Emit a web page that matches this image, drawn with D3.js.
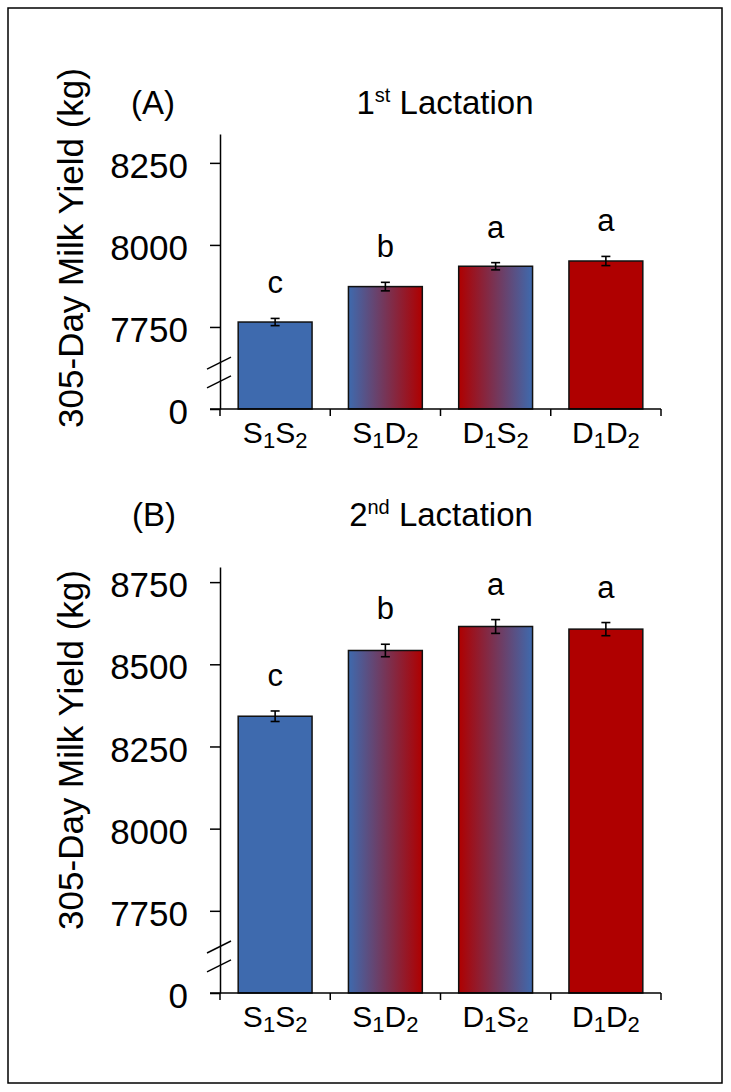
<!DOCTYPE html>
<html>
<head>
<meta charset="utf-8">
<script src="https://cdn.jsdelivr.net/npm/d3@7"></script>
<style>
  html, body { margin: 0; padding: 0; background: #fff; }
  svg { display: block; font-family: "Liberation Sans", Arial, sans-serif; }
</style>
</head>
<body>
<svg id="chart" width="731" height="1092"></svg>
<script>
// ---------------- data ----------------
const categories = ["S1S2", "S1D2", "D1S2", "D1D2"];

const lact1Values  = [7765, 7873, 7935, 7951];
const lact1Errors  = [11, 13, 11, 14];
const lact1Letters = ["c", "b", "a", "a"];
const lact1Ticks   = [7500, 7750, 8000, 8250];   // 7500 drawn as "0" (broken axis)
const lact1Max     = 8338;

const lact2Values  = [8342, 8542, 8615, 8607];
const lact2Errors  = [16, 19, 21, 20];
const lact2Letters = ["c", "b", "a", "a"];
const lact2Ticks   = [7500, 7750, 8000, 8250, 8500, 8750];
const lact2Max     = 8796;

const breakValue = 7500;   // value shown as "0" below the axis break
const yTitle = "305-Day Milk Yield (kg)";

// ---------------- drawing ----------------
const BLUE = "#3e6aae", RED = "#af0000";
const svg = d3.select("#chart");

svg.append("rect").attr("x", 8).attr("y", 8).attr("width", 714).attr("height", 1075)
  .attr("fill", "none").attr("stroke", "#000").attr("stroke-width", 1.5);

const defs = svg.append("defs");
function grad(id, c0, c1) {
  const g = defs.append("linearGradient").attr("id", id)
    .attr("x1", "0%").attr("x2", "100%").attr("y1", "0%").attr("y2", "0%");
  g.append("stop").attr("offset", "0%").attr("stop-color", c0);
  g.append("stop").attr("offset", "100%").attr("stop-color", c1);
}
grad("gBR", BLUE, RED);
grad("gRB", RED, BLUE);
const fills = { S1S2: BLUE, S1D2: "url(#gBR)", D1S2: "url(#gRB)", D1D2: RED };

const x = d3.scaleBand().domain(categories).range([220, 661])
  .paddingInner(0.33).paddingOuter(0.165);

function catLabel(sel, label) {
  const chars = label.split("");
  chars.forEach((ch, i) => {
    const isDigit = /\d/.test(ch);
    const prevDigit = i > 0 && /\d/.test(chars[i - 1]);
    const t = sel.append("tspan").text(ch);
    if (isDigit) t.attr("font-size", 22).attr("dy", 5);
    else if (prevDigit) t.attr("dy", -5);
  });
}

function panel(opts) {
  const { values, errors, letters, ticks, max, y0, yTop, tag, titleNum, titleSup,
          titleBase, titleCenter, tagX, yTitleCenter } = opts;
  const y = d3.scaleLinear().domain([breakValue, max]).range([y0, yTop]);
  const g = svg.append("g");

  // bars
  g.selectAll("rect.bar").data(categories).join("rect").attr("class", "bar")
    .attr("x", d => x(d)).attr("width", x.bandwidth())
    .attr("y", (d, i) => y(values[i]))
    .attr("height", (d, i) => y(breakValue) - y(values[i]))
    .attr("fill", d => fills[d]).attr("stroke", "#111").attr("stroke-width", 1.5);

  // error bars
  const eb = g.selectAll("g.err").data(categories).join("g").attr("class", "err")
    .attr("stroke", "#000").attr("stroke-width", 1.6);
  const cx = d => x(d) + x.bandwidth() / 2;
  eb.append("line").attr("x1", cx).attr("x2", cx)
    .attr("y1", (d, i) => y(values[i] - errors[i])).attr("y2", (d, i) => y(values[i] + errors[i]));
  eb.append("line").attr("x1", d => cx(d) - 4.5).attr("x2", d => cx(d) + 4.5)
    .attr("y1", (d, i) => y(values[i] + errors[i])).attr("y2", (d, i) => y(values[i] + errors[i]));
  eb.append("line").attr("x1", d => cx(d) - 4.5).attr("x2", d => cx(d) + 4.5)
    .attr("y1", (d, i) => y(values[i] - errors[i])).attr("y2", (d, i) => y(values[i] - errors[i]));

  // significance letters
  g.selectAll("text.sig").data(categories).join("text").attr("class", "sig")
    .attr("x", cx).attr("y", (d, i) => y(values[i] + errors[i]) - 25)
    .attr("text-anchor", "middle").attr("font-size", 31).attr("fill", "#000")
    .text((d, i) => letters[i]);

  // y axis
  const ax = g.append("g").attr("transform", "translate(220,0)")
    .call(d3.axisLeft(y).tickValues(ticks).tickSize(10).tickSizeOuter(0).tickPadding(22)
      .tickFormat(d => d === breakValue ? "0" : String(d)));
  ax.select(".domain").attr("stroke", "#000").attr("stroke-width", 1.5);
  ax.selectAll(".tick line").attr("stroke", "#000").attr("stroke-width", 1.5);
  ax.selectAll(".tick text").attr("font-size", 35).attr("fill", "#000")
    .attr("font-family", "Liberation Sans, Arial, sans-serif").attr("dy", "0.42em");

  // axis break marks
  const unit = y(breakValue) - y(breakValue + 250);
  [0.44, 0.67].forEach(f => {
    const yy = y(breakValue + 250) + f * unit;
    g.append("line").attr("x1", 207).attr("x2", 231).attr("y1", yy + 6).attr("y2", yy - 6)
      .attr("stroke", "#000").attr("stroke-width", 1.5);
  });

  // x axis
  const by = y(breakValue);
  g.append("line").attr("x1", 210).attr("x2", 661).attr("y1", by).attr("y2", by)
    .attr("stroke", "#000").attr("stroke-width", 1.5);
  const step = x.step();
  d3.range(categories.length + 1).forEach(i => {
    const xx = 220 + i * step;
    g.append("line").attr("x1", xx).attr("x2", xx).attr("y1", by).attr("y2", by + 7)
      .attr("stroke", "#000").attr("stroke-width", 1.5);
  });
  g.selectAll("text.cat").data(categories).join("text").attr("class", "cat")
    .attr("x", cx).attr("y", by + 34).attr("text-anchor", "middle")
    .attr("font-size", 30).attr("fill", "#000")
    .each(function (d) { catLabel(d3.select(this), d); });

  // y title
  g.append("text").attr("transform", `translate(83,${yTitleCenter}) rotate(-90)`)
    .attr("text-anchor", "middle").attr("font-size", 35).attr("fill", "#000").text(yTitle);

  // panel titles
  g.append("text").attr("x", tagX).attr("y", titleBase).attr("font-size", 33)
    .attr("fill", "#000").text(tag);
  const t = g.append("text").attr("x", titleCenter).attr("y", titleBase)
    .attr("text-anchor", "middle").attr("font-size", 33).attr("fill", "#000");
  t.append("tspan").text(titleNum);
  t.append("tspan").text(titleSup).attr("font-size", 20).attr("dy", -12);
  t.append("tspan").text(" Lactation").attr("dy", 12);
}

panel({ values: lact1Values, errors: lact1Errors, letters: lact1Letters, ticks: lact1Ticks,
  max: lact1Max, y0: 409, yTop: 134, tag: "(A)", titleNum: "1", titleSup: "st",
  titleBase: 114, titleCenter: 445, tagX: 131, yTitleCenter: 248 });

panel({ values: lact2Values, errors: lact2Errors, letters: lact2Letters, ticks: lact2Ticks,
  max: lact2Max, y0: 993, yTop: 567, tag: "(B)", titleNum: "2", titleSup: "nd",
  titleBase: 526, titleCenter: 441, tagX: 132, yTitleCenter: 750 });
</script>
</body>
</html>
